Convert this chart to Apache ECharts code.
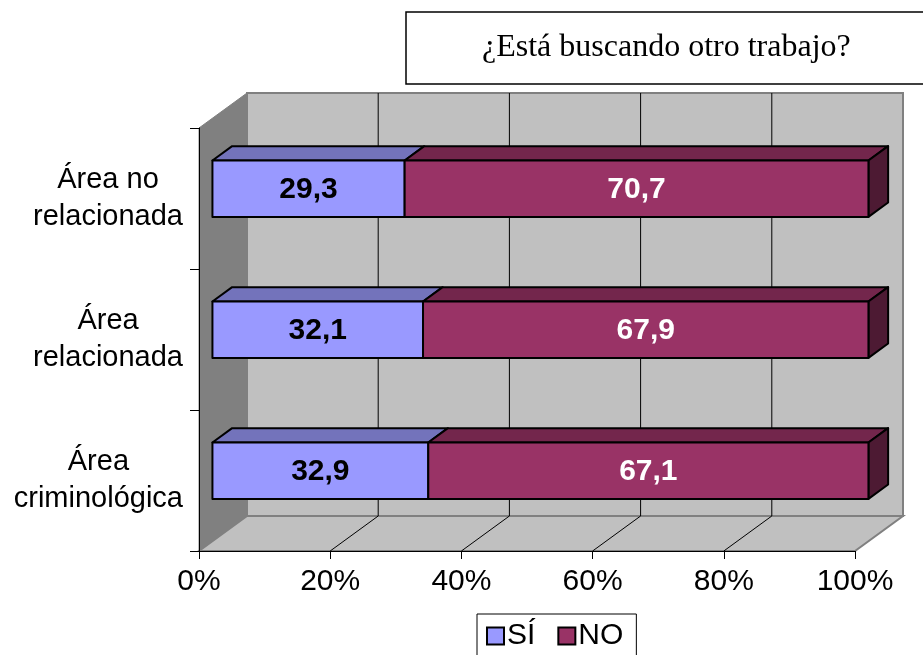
<!DOCTYPE html>
<html>
<head>
<meta charset="utf-8">
<script src="https://cdn.jsdelivr.net/npm/echarts@6/dist/echarts.min.js"></script>
<style>
html,body{margin:0;padding:0;background:#fff;}
#chart{width:923px;height:655px;}
</style>
</head>
<body>
<div id="chart"></div>
<script>
// ---- data ----
const categories = ['Área criminológica', 'Área relacionada', 'Área no relacionada'];
const categoryLabels = ['Área\ncriminológica', 'Área\nrelacionada', 'Área no\nrelacionada'];
const siValues = [32.9, 32.1, 29.3];
const noValues = [67.1, 67.9, 70.7];
const xTicks = [0, 20, 40, 60, 80, 100];
const seriesNames = ['SÍ', 'NO'];
const titleText = '¿Está buscando otro trabajo?';

// ---- 3D styling constants ----
const DX = 48, DY = -35;       // depth offset of back wall
const D0 = 0.28, D1 = 0.69;    // bar depth (front/back) as fraction
const BAR_FRAC = 0.4;          // bar height as fraction of band
const FONT = 'Liberation Sans, Arial, sans-serif';

const siData = categories.map((c, i) => [i, 0, siValues[i]]);
const noData = categories.map((c, i) => [i, siValues[i], siValues[i] + noValues[i]]);

function fmt(v) { return v.toFixed(1).replace('.', ','); }

function barRenderer(front, top, side, textColor, isLast, values) {
  return function (params, api) {
    const cat = api.value(0), v0 = api.value(1), v1 = api.value(2);
    const p0 = api.coord([v0, cat]);
    const p1 = api.coord([v1, cat]);
    const band = api.size([0, 1])[1];
    const h = band * BAR_FRAC;
    const fx = D0 * DX, fy = D0 * DY;
    const ddx = (D1 - D0) * DX, ddy = (D1 - D0) * DY;
    const xL = p0[0] + fx, xR = p1[0] + fx;
    const yT = p0[1] + fy - h / 2, yB = yT + h;
    const stroke = { stroke: '#000', lineWidth: 2, lineJoin: 'round' };
    const children = [
      { type: 'polygon', shape: { points: [[xL, yT], [xR, yT], [xR + ddx, yT + ddy], [xL + ddx, yT + ddy]] },
        style: Object.assign({ fill: top }, stroke) }
    ];
    if (isLast) {
      children.push({ type: 'polygon', shape: { points: [[xR, yT], [xR + ddx, yT + ddy], [xR + ddx, yB + ddy], [xR, yB]] },
        style: Object.assign({ fill: side }, stroke) });
    }
    children.push({ type: 'rect', shape: { x: xL, y: yT, width: xR - xL, height: h },
      style: Object.assign({ fill: front }, stroke) });
    children.push({ type: 'text', style: { text: fmt(values[params.dataIndex]), x: (xL + xR) / 2, y: (yT + yB) / 2 + 1,
      align: 'center', verticalAlign: 'middle', font: 'bold 30px ' + FONT, fill: textColor } });
    return { type: 'group', children: children };
  };
}

function wallRenderer(params, api) {
  const n = categories.length;
  const band = api.size([0, 1])[1];
  const x0 = api.coord([0, 0])[0];
  const x100 = api.coord([100, 0])[0];
  const yBottom = api.coord([0, 0])[1] + band / 2;
  const yTop = api.coord([0, n - 1])[1] - band / 2;
  const children = [];
  // left wall
  children.push({ type: 'polygon', shape: { points: [[x0, yTop], [x0 + DX, yTop + DY], [x0 + DX, yBottom + DY], [x0, yBottom]] },
    style: { fill: '#808080', stroke: '#808080', lineWidth: 1 } });
  // back wall
  children.push({ type: 'rect', shape: { x: x0 + DX, y: yTop + DY, width: x100 - x0, height: yBottom - yTop },
    style: { fill: '#c0c0c0', stroke: '#808080', lineWidth: 2 } });
  // floor
  children.push({ type: 'polygon', shape: { points: [[x0, yBottom], [x100, yBottom], [x100 + DX, yBottom + DY], [x0 + DX, yBottom + DY]] },
    style: { fill: '#c0c0c0', stroke: '#808080', lineWidth: 2 } });
  // gridlines
  xTicks.forEach(function (t) {
    if (t === 0 || t === 100) return;
    const x = api.coord([t, 0])[0];
    children.push({ type: 'line', shape: { x1: x + DX, y1: yTop + DY, x2: x + DX, y2: yBottom + DY }, style: { stroke: '#000', lineWidth: 1 } });
    children.push({ type: 'line', shape: { x1: x, y1: yBottom, x2: x + DX, y2: yBottom + DY }, style: { stroke: '#000', lineWidth: 1 } });
  });
  return { type: 'group', children: children };
}

const chart = echarts.init(document.getElementById('chart'), null, { renderer: 'canvas' });
chart.setOption({
  animation: false,
  backgroundColor: '#fff',
  title: {
    text: titleText, left: 406, top: 12,
    padding: [19, 110, 19, 76],
    borderColor: '#000', borderWidth: 1.5,
    textStyle: { fontFamily: 'Liberation Serif, Times New Roman, serif', fontSize: 32, fontWeight: 'normal', color: '#000', lineHeight: 34 }
  },
  legend: {
    data: seriesNames, left: 477, top: 614,
    padding: [7, 13, 7, 9], itemGap: 22, itemWidth: 17, itemHeight: 17,
    borderColor: '#000', borderWidth: 1, icon: 'rect', selectedMode: false,
    itemStyle: { borderColor: '#000', borderWidth: 2 },
    textStyle: { fontSize: 30, fontFamily: FONT, color: '#000', padding: [0, 0, 0, -2] }
  },
  grid: { left: 199, right: 68, top: 128, bottom: 104, containLabel: false },
  xAxis: {
    type: 'value', min: 0, max: 100, interval: 20, z: 10,
    axisLine: { show: true, lineStyle: { color: '#000', width: 1 } },
    axisTick: { show: true, length: 8, lineStyle: { color: '#000' } },
    splitLine: { show: false },
    axisLabel: { formatter: '{value}%', fontSize: 30, fontFamily: FONT, color: '#000', margin: 16 }
  },
  yAxis: {
    type: 'category', data: categories, z: 10,
    axisLine: { show: true, lineStyle: { color: '#000', width: 1 } },
    axisTick: { show: true, length: 9, lineStyle: { color: '#000' } },
    splitLine: { show: false },
    axisLabel: {
      margin: 16, align: 'right',
      formatter: function (v, i) {
        return categoryLabels[i].split('\n').map(function (s) { return '{c|' + s + '}'; }).join('\n');
      },
      rich: { c: { align: 'center', fontSize: 29, fontFamily: FONT, color: '#000', lineHeight: 37 } }
    }
  },
  series: [
    { type: 'custom', name: 'walls', z: 1, silent: true, data: [[0, 0, 0]], renderItem: wallRenderer },
    { type: 'custom', name: 'SÍ', z: 2, data: siData, itemStyle: { color: '#9999FF', borderColor: '#000', borderWidth: 2 },
      renderItem: barRenderer('#9999FF', '#7373BB', '#5a5a99', '#000', false, siValues) },
    { type: 'custom', name: 'NO', z: 3, data: noData, itemStyle: { color: '#993366', borderColor: '#000', borderWidth: 2 },
      renderItem: barRenderer('#993366', '#73264C', '#4D1A33', '#fff', true, noValues) }
  ]
});
</script>
</body>
</html>
